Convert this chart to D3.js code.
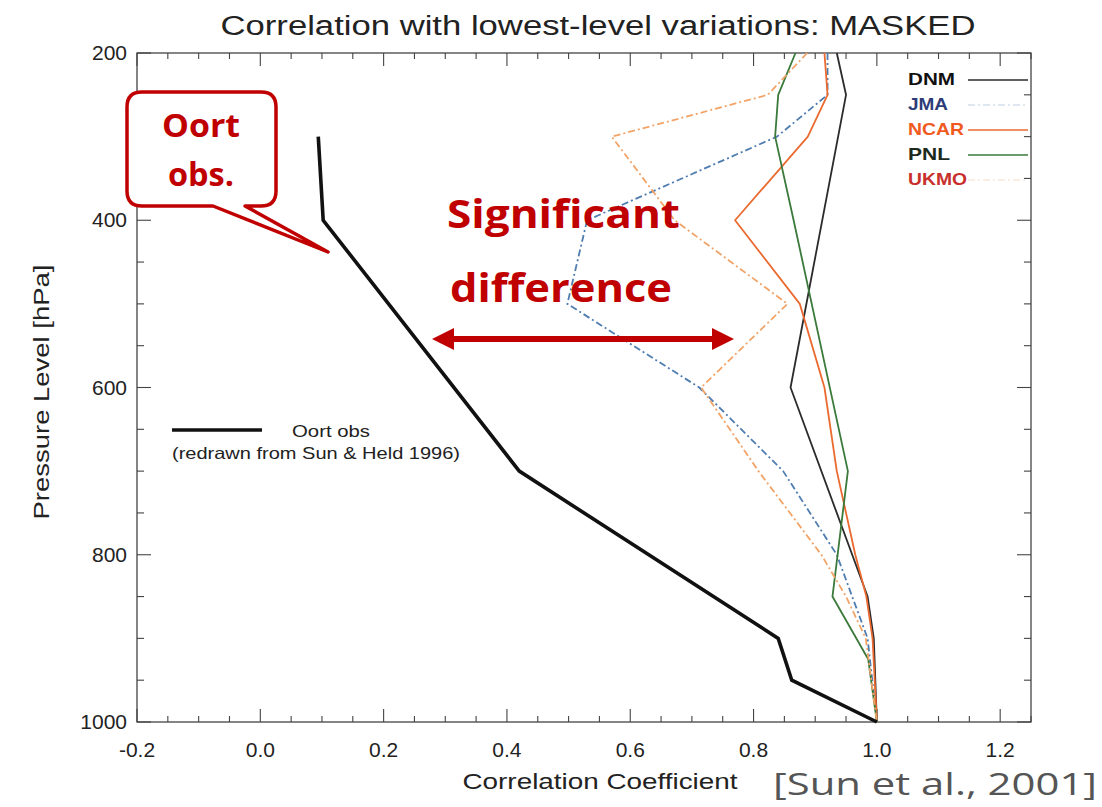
<!DOCTYPE html>
<html><head><meta charset="utf-8">
<script src="https://cdn.jsdelivr.net/npm/d3@7"></script>
<style>body{margin:0;background:#fff}svg{display:block}</style>
</head><body>
<svg id="c" width="1102" height="807"></svg>
<script>
// ---- data ----
const pressureTicks = [200, 400, 600, 800, 1000];
const corrTicks = [-0.2, 0.0, 0.2, 0.4, 0.6, 0.8, 1.0, 1.2];

const oortP = [300, 400, 700, 900, 950, 1000];
const oortR = [0.094, 0.102, 0.42, 0.84, 0.862, 1.0];

const dnmP = [200, 250, 600, 850, 900, 1000];
const dnmR = [0.935, 0.95, 0.86, 0.985, 0.995, 1.0];

const jmaP = [200, 250, 300, 400, 500, 600, 700, 800, 900, 1000];
const jmaR = [0.92, 0.92, 0.838, 0.53, 0.498, 0.712, 0.848, 0.935, 0.985, 1.0];

const ncarP = [200, 250, 300, 400, 500, 600, 700, 800, 850, 900, 1000];
const ncarR = [0.915, 0.92, 0.888, 0.77, 0.875, 0.915, 0.935, 0.965, 0.983, 0.993, 1.0];

const pnlP = [200, 250, 300, 400, 700, 850, 925, 1000];
const pnlR = [0.868, 0.84, 0.835, 0.865, 0.953, 0.928, 0.986, 1.0];

const ukmoP = [200, 250, 300, 400, 500, 600, 700, 800, 850, 900, 1000];
const ukmoR = [0.887, 0.823, 0.57, 0.672, 0.855, 0.715, 0.808, 0.91, 0.95, 0.982, 1.0];

const legendNames = ["DNM", "JMA", "NCAR", "PNL", "UKMO"];

// ---- styles ----
const series = [
  {name:"DNM",  p:dnmP,  r:dnmR,  color:"#2b2b2b", dash:null,        text:"#111"},
  {name:"JMA",  p:jmaP,  r:jmaR,  color:"#4f7db0", dash:"7,3,2,3",   text:"#2c3c78"},
  {name:"NCAR", p:ncarP, r:ncarR, color:"#ea6a30", dash:null,        text:"#f05a1e"},
  {name:"PNL",  p:pnlP,  r:pnlR,  color:"#3b7a3b", dash:null,        text:"#1c2a1c"},
  {name:"UKMO", p:ukmoP, r:ukmoR, color:"#f2a468", dash:"7,3,2,3",   text:"#c8302c"}
];

const svg = d3.select("#c");
const L = 137, R = 1031, T = 53, B = 722;
const x = d3.scaleLinear().domain([-0.2, 1.25]).range([L, R]);
const y = d3.scaleLinear().domain([200, 1000]).range([T, B]);
const axisColor = "#444";
const font = "'Liberation Sans', Arial, sans-serif";

// frame
svg.append("rect").attr("x", L).attr("y", T).attr("width", R - L).attr("height", B - T)
  .attr("fill", "none").attr("stroke", axisColor).attr("stroke-width", 1.3);

// ticks
const xMinor = d3.range(-0.2, 1.2501, 0.05);
const yMinor = d3.range(200, 1000.1, 50);
const isMajorX = v => Math.abs(Math.round(v * 5) - v * 5) < 1e-6;
const isMajorY = v => v % 200 === 0;
const tg = svg.append("g").attr("stroke", axisColor).attr("stroke-width", 1.1);
xMinor.forEach(v => {
  const len = isMajorX(v) ? 13 : 6;
  const xx = x(v);
  tg.append("line").attr("x1", xx).attr("x2", xx).attr("y1", B).attr("y2", B - len);
  tg.append("line").attr("x1", xx).attr("x2", xx).attr("y1", T).attr("y2", T + len);
});
yMinor.forEach(v => {
  const len = isMajorY(v) ? 14 : 7;
  const yy = y(v);
  tg.append("line").attr("x1", L).attr("x2", L + len).attr("y1", yy).attr("y2", yy);
  tg.append("line").attr("x1", R).attr("x2", R - len).attr("y1", yy).attr("y2", yy);
});

// tick labels
svg.append("g").selectAll("text").data(corrTicks).join("text")
  .attr("x", d => x(d)).attr("y", 757).attr("text-anchor", "middle")
  .attr("font-family", font).attr("font-size", 21).attr("fill", "#222")
  .text(d => d.toFixed(1));
svg.append("g").selectAll("text").data(pressureTicks).join("text")
  .attr("x", 127).attr("y", d => y(d) + 7).attr("text-anchor", "end")
  .attr("font-family", font).attr("font-size", 21).attr("fill", "#222")
  .text(d => d);

// titles
svg.append("text").attr("x", 598).attr("y", 35).attr("text-anchor", "middle")
  .attr("font-family", font).attr("font-size", 27).attr("fill", "#222")
  .attr("textLength", 755).attr("lengthAdjust", "spacingAndGlyphs")
  .text("Correlation with lowest-level variations: MASKED");
svg.append("text").attr("x", 600).attr("y", 789).attr("text-anchor", "middle")
  .attr("font-family", font).attr("font-size", 22).attr("fill", "#222")
  .attr("textLength", 275).attr("lengthAdjust", "spacingAndGlyphs")
  .text("Correlation Coefficient");
svg.append("text").attr("transform", "translate(49,392) rotate(-90)").attr("text-anchor", "middle")
  .attr("font-family", font).attr("font-size", 22).attr("fill", "#222")
  .attr("textLength", 255).attr("lengthAdjust", "spacingAndGlyphs")
  .text("Pressure Level  [hPa]");

// lines
const line = d3.line().x(d => x(d[1])).y(d => y(d[0]));
series.forEach(s => {
  svg.append("path").datum(d3.zip(s.p, s.r)).attr("d", line)
    .attr("fill", "none").attr("stroke", s.color).attr("stroke-width", 1.8)
    .attr("stroke-dasharray", s.dash).attr("stroke-linejoin", "round");
});
svg.append("path").datum(d3.zip(oortP, oortR)).attr("d", line)
  .attr("fill", "none").attr("stroke", "#111").attr("stroke-width", 3.6)
  .attr("stroke-linejoin", "miter");

// model legend
const lg = svg.append("g");
const legendWidths = [47, 40, 56, 42, 59];
series.forEach((s, i) => {
  const yy = 79 + i * 25;
  lg.append("text").attr("x", 908).attr("y", yy + 6).attr("font-family", font)
    .attr("font-size", 17).attr("font-weight", "bold").attr("fill", s.text)
    .attr("textLength", legendWidths[i]).attr("lengthAdjust", "spacingAndGlyphs")
    .text(legendNames[i]);
  lg.append("line").attr("x1", 968).attr("x2", 1028).attr("y1", yy + 1).attr("y2", yy + 1)
    .attr("stroke", s.color).attr("stroke-width", 1.6)
    .attr("stroke-opacity", (s.name === "JMA" || s.name === "UKMO") ? 0.25 : 1)
    .attr("stroke-dasharray", s.dash);
});

// Oort legend
svg.append("line").attr("x1", 172).attr("x2", 262).attr("y1", 430).attr("y2", 430)
  .attr("stroke", "#111").attr("stroke-width", 3.6);
svg.append("text").attr("x", 292).attr("y", 437).attr("font-family", font).attr("font-size", 17)
  .attr("fill", "#222").attr("textLength", 78).attr("lengthAdjust", "spacingAndGlyphs").text("Oort obs");
svg.append("text").attr("x", 172).attr("y", 459).attr("font-family", font).attr("font-size", 16.5)
  .attr("fill", "#222").attr("textLength", 288).attr("lengthAdjust", "spacingAndGlyphs")
  .text("(redrawn from Sun & Held 1996)");

// annotations
const red = "#c00000";
const ann = svg.append("g");
ann.append("path")
  .attr("d", "M142,92 H261 Q276,92 276,107 V191 Q276,206 261,206 H245 L328,252 L213,206 H142 Q127,206 127,191 V107 Q127,92 142,92 Z")
  .attr("fill", "#fff").attr("stroke", red).attr("stroke-width", 3.5).attr("stroke-linejoin", "round");
ann.append("text").attr("x", 201).attr("y", 137).attr("text-anchor", "middle")
  .attr("font-family", "'Open Sans', sans-serif").attr("font-weight", "bold").attr("font-size", 32)
  .attr("fill", red).attr("textLength", 78).attr("lengthAdjust", "spacingAndGlyphs").text("Oort");
ann.append("text").attr("x", 201).attr("y", 186).attr("text-anchor", "middle")
  .attr("font-family", "'Open Sans', sans-serif").attr("font-weight", "bold").attr("font-size", 32)
  .attr("fill", red).attr("textLength", 66).attr("lengthAdjust", "spacingAndGlyphs").text("obs.");
ann.append("text").attr("x", 447).attr("y", 228)
  .attr("font-family", "'Open Sans', sans-serif").attr("font-weight", "bold").attr("font-size", 40)
  .attr("fill", red).attr("textLength", 233).attr("lengthAdjust", "spacingAndGlyphs").text("Significant");
ann.append("text").attr("x", 450).attr("y", 302)
  .attr("font-family", "'Open Sans', sans-serif").attr("font-weight", "bold").attr("font-size", 40)
  .attr("fill", red).attr("textLength", 222).attr("lengthAdjust", "spacingAndGlyphs").text("difference");
ann.append("line").attr("x1", 448).attr("x2", 718).attr("y1", 339).attr("y2", 339)
  .attr("stroke", red).attr("stroke-width", 6);
ann.append("path").attr("d", "M432,339 L454,328 L454,350 Z").attr("fill", red);
ann.append("path").attr("d", "M734,339 L712,328 L712,350 Z").attr("fill", red);

svg.append("text").attr("x", 1097).attr("y", 795).attr("text-anchor", "end")
  .attr("font-family", "'Open Sans', sans-serif").attr("font-size", 31).attr("fill", "#555")
  .attr("textLength", 324).attr("lengthAdjust", "spacingAndGlyphs").text("[Sun et al., 2001]");
</script>
</body></html>
